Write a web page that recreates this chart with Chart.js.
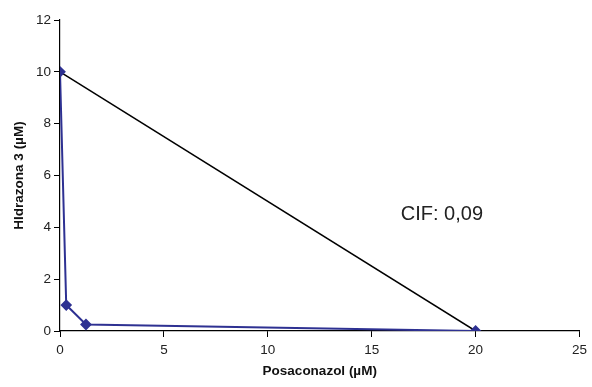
<!DOCTYPE html>
<html>
<head>
<meta charset="utf-8">
<script src="https://cdn.jsdelivr.net/npm/chart.js@4"></script>
<style>
  html, body { margin: 0; padding: 0; background: #fff; }
  #wrap { width: 592px; height: 387px; }
</style>
</head>
<body>
<div id="wrap"><canvas id="isoChart" width="592" height="387"></canvas></div>
<script>
// data
const posaconazol = [0, 0.3, 1.25, 20];
const hidrazona = [10, 1.0, 0.25, 0];
const additiveX = [0, 20];
const additiveY = [10, 0];
const xTicks = [0, 5, 10, 15, 20, 25];
const yTicks = [0, 2, 4, 6, 8, 10, 12];
const cifLabel = 'CIF: 0,09';

function toPoints(xs, ys) {
  return xs.map((x, i) => ({ x: x, y: ys[i] }));
}

// text label placed with the chart's own scales
const cifPlugin = {
  id: 'cifText',
  afterDatasetsDraw(chart) {
    const ctx = chart.ctx;
    const px = chart.scales.x.getPixelForValue(16.4);
    const py = chart.scales.y.getPixelForValue(4.5);
    ctx.save();
    ctx.font = '20px "Liberation Sans", Arial, sans-serif';
    ctx.fillStyle = '#222';
    ctx.textAlign = 'left';
    ctx.textBaseline = 'middle';
    ctx.fillText(cifLabel, px, py);
    ctx.restore();
  }
};

const tickFont = { family: '"Liberation Sans", Arial, sans-serif', size: 13.5 };
const titleFont = { family: '"Liberation Sans", Arial, sans-serif', size: 13.5, weight: 'bold' };

const config = {
  type: 'scatter',
  data: {
    datasets: [
      {
        label: 'Posaconazol',
        data: toPoints(posaconazol, hidrazona),
        showLine: true,
        borderColor: '#2E3192',
        backgroundColor: '#2E3192',
        borderWidth: 2,
        pointStyle: 'rectRot',
        pointRadius: 4.5,
        pointHoverRadius: 4.5,
        order: 0
      },
      {
        label: 'Aditiva',
        data: toPoints(additiveX, additiveY),
        showLine: true,
        borderColor: '#000',
        borderWidth: 1.5,
        pointRadius: 0,
        order: 1
      }
    ]
  },
  options: {
    responsive: false,
    animation: false,
    events: [],
    layout: { padding: { top: 20, right: 10, left: 0, bottom: 0 } },
    plugins: {
      legend: { display: false },
      tooltip: { enabled: false }
    },
    scales: {
      x: {
        type: 'linear',
        min: 0,
        max: 25,
        afterBuildTicks: s => { s.ticks = xTicks.map(v => ({ value: v })); },
        afterFit: s => { s.height = 56; },
        ticks: { color: '#222', font: tickFont, padding: 5, maxRotation: 0 },
        grid: { display: true, drawOnChartArea: false, drawTicks: true, tickLength: 6, color: '#000', tickColor: '#000' },
        border: { color: '#000', width: 1.2 },
        title: { display: true, text: 'Posaconazol (µM)', color: '#111', font: titleFont, padding: { top: 0, bottom: 8 } }
      },
      y: {
        type: 'linear',
        min: 0,
        max: 12,
        afterBuildTicks: s => { s.ticks = yTicks.map(v => ({ value: v })); },
        afterFit: s => { s.width = 60; },
        ticks: { color: '#222', font: tickFont, padding: 3 },
        grid: { display: true, drawOnChartArea: false, drawTicks: true, tickLength: 6, color: '#000', tickColor: '#000' },
        border: { color: '#000', width: 1.2 },
        title: { display: true, text: 'HIdrazona 3 (µM)', color: '#111', font: titleFont, padding: { top: 11, bottom: 0 } }
      }
    }
  },
  plugins: [cifPlugin]
};

new Chart(document.getElementById('isoChart'), config);
</script>
</body>
</html>
